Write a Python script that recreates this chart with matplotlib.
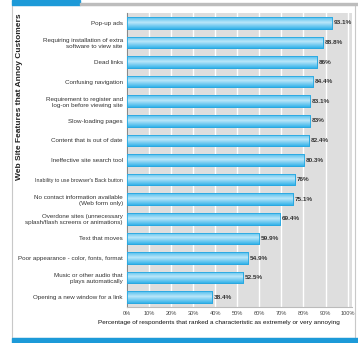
import matplotlib.pyplot as plt
import numpy as np
from matplotlib.patches import Rectangle
from matplotlib.colors import LinearSegmentedColormap

# datos (de arriba hacia abajo)
features = [
    'Pop-up ads',
    'Requiring installation of extra\nsoftware to view site',
    'Dead links',
    'Confusing navigation',
    'Requirement to register and\nlog-on before viewing site',
    'Slow-loading pages',
    'Content that is out of date',
    'Ineffective site search tool',
    "Inability to use browser's Back button",
    'No contact information available\n(Web form only)',
    'Overdone sites (unnecessary\nsplash/flash screens or animations)',
    'Text that moves',
    'Poor appearance - color, fonts, format',
    'Music or other audio that\nplays automatically',
    'Opening a new window for a link',
]
values = [93.1, 88.8, 86, 84.4, 83.1, 83, 82.4, 80.3, 76, 75.1, 69.4, 59.9, 54.9, 52.5, 38.4]
value_labels = ['93.1%', '88.8%', '86%', '84.4%', '83.1%', '83%', '82.4%', '80.3%',
                '76%', '75.1%', '69.4%', '59.9%', '54.9%', '52.5%', '38.4%']
xticks = [0, 10, 20, 30, 40, 50, 60, 70, 80, 90, 100]

plt.rcParams['font.family'] = ['Liberation Sans', 'DejaVu Sans']

W, H = 358, 343
fig = plt.figure(figsize=(W / 100, H / 100), dpi=100)

# marco y barras azules de la plantilla
blue = '#1d9ad8'
fig.patches.append(Rectangle((12 / W, 5 / H), 343 / W, 1 - 10 / H, transform=fig.transFigure,
                             facecolor='white', edgecolor='#c8c8c8', lw=0.8, zorder=-5))
fig.patches.append(Rectangle((12 / W, 1 - 5 / H), 68 / W, 5 / H, transform=fig.transFigure,
                             color=blue, zorder=-4))
fig.patches.append(Rectangle((80 / W, 1 - 5 / H), 278 / W, 1.5 / H, transform=fig.transFigure,
                             color='#bdbdbd', zorder=-4))
fig.patches.append(Rectangle((12 / W, 0), 346 / W, 5 / H, transform=fig.transFigure,
                             color=blue, zorder=-4))

ax = fig.add_axes([127 / W, 36 / H, 225 / W, 294 / H])
ax.set_facecolor('#dedede')

y = np.arange(len(features))
bars = ax.barh(y, values, height=0.6, color='#6cc8ef', edgecolor='#2aa8df', lw=0.6, zorder=3)

# degradado dentro de cada barra
grad = np.linspace(0, 1, 64).reshape(-1, 1)
grad = 1 - np.abs(grad - 0.45) * 1.5
cmap = LinearSegmentedColormap.from_list('azul', ['#36b3ea', '#b8e6f9'])
for b in bars:
    x0, y0 = b.get_x(), b.get_y()
    im = ax.imshow(grad, extent=[x0, x0 + b.get_width(), y0 + b.get_height(), y0],
                   cmap=cmap, aspect='auto', zorder=3.5, origin='upper')
    im.set_clip_path(b)
    b2 = Rectangle((x0, y0), b.get_width(), b.get_height(), fill=False,
                   edgecolor='#27a7e0', lw=0.6, zorder=4)
    ax.add_patch(b2)

for yi, v, lab in zip(y, values, value_labels):
    ax.text(v + 0.8, yi, lab, va='center', ha='left', fontsize=4.6,
            fontweight='bold', color='#333333', zorder=5)

ax.set_yticks(y)
ax.set_yticklabels(features, fontsize=4.5, color='#333333')
# esta etiqueta es mas estrecha en el original
ax.get_yticklabels()[8].set_fontsize(3.8)
ax.set_ylim(len(features) - 0.5, -0.5)
ax.set_xlim(0, 102)
ax.set_xticks(xticks)
ax.set_xticklabels([f'{t}%' for t in xticks], fontsize=4.1, color='#444444')
ax.tick_params(length=0, pad=3)
ax.grid(axis='x', color='white', lw=1.0, zorder=1)
for s in ax.spines.values():
    s.set_visible(False)
ax.spines['left'].set_visible(True)
ax.spines['left'].set_color('#888888')
ax.spines['left'].set_linewidth(0.8)
ax.spines['bottom'].set_visible(True)
ax.spines['bottom'].set_color('#bbbbbb')

ax.set_xlabel('Percentage of respondents that ranked a characteristic as extremely or very annoying',
              fontsize=4.6, color='#111111')
ax.xaxis.set_label_coords(0.41, -0.045)

fig.text(20 / W, 1 - 13 / H, 'Web Site Features that Annoy Customers', rotation=90,
         ha='center', va='top', fontsize=6.0, fontweight='bold', color='#222222')

fig.savefig('out.png', dpi=100)
